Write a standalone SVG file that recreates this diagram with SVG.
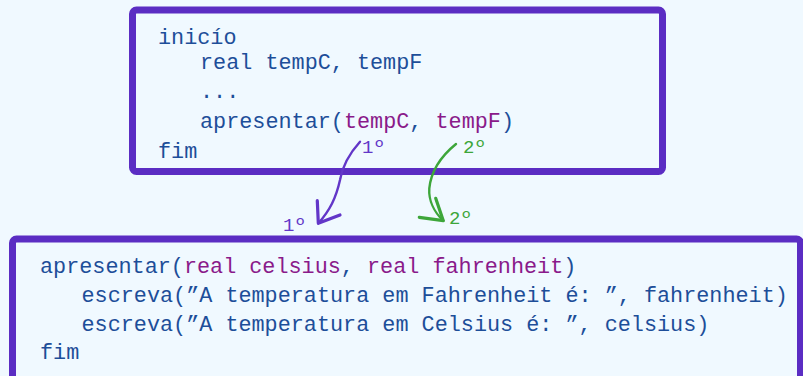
<svg xmlns="http://www.w3.org/2000/svg" width="803" height="376" viewBox="0 0 803 376">
<style>
.code{font-family:"Liberation Mono","Courier New",monospace;font-size:21.8px;fill:#1D4E99}
.arg{fill:#8A1A8A}
.box{fill:#F0F9FF;stroke:#5B2DC3;stroke-width:7}
.lbl{font-family:"Liberation Mono","Courier New",monospace;font-size:19px}
.p{fill:#6236C8}
.g{fill:#3DA63A}
</style>
<rect x="0" y="0" width="803" height="376" fill="#F0F9FF"/>
<g id="main">
<rect class="box" x="132.5" y="10" width="530" height="161.5" rx="4"/>
<text class="code" x="158" y="44.3">inicío</text>
<text class="code" x="200" y="69.3">real tempC, tempF</text>
<text class="code" x="200" y="98.3">...</text>
<text class="code" x="200" y="128.3">apresentar(<tspan class="arg">tempC</tspan>, <tspan class="arg">tempF</tspan>)</text>
<text class="code" x="158" y="158.3">fim</text>
</g>
<g id="proc">
<rect class="box" x="12.5" y="239" width="788" height="145" rx="4"/>
<text class="code" x="40" y="273.3">apresentar(<tspan class="arg">real celsius</tspan>, <tspan class="arg">real fahrenheit</tspan>)</text>
<text class="code" x="81.5" y="301.7">escreva(”A temperatura em Fahrenheit é: ”, fahrenheit)</text>
<text class="code" x="81.5" y="331">escreva(”A temperatura em Celsius é: ”, celsius)</text>
<text class="code" x="40" y="359">fim</text>
</g>
<g id="connectors" fill="none" stroke-linecap="round" stroke-linejoin="round">
<path d="M360 141.7 C348 155 342 168 340 180 C336 198 330 210 318.3 223.3" stroke="#6236C8" stroke-width="2.4"/>
<path d="M317.3 200.7 L318.3 223.3 L340 215" stroke="#6236C8" stroke-width="3.2"/>
<path d="M456 144 C440 157 431 172 429.3 188.3 C428.5 200 434 212 443.3 220.7" stroke="#3DA63A" stroke-width="2.4"/>
<path d="M419.3 217.3 L443.3 220.7 L435.7 198.3" stroke="#3DA63A" stroke-width="3.2"/>
</g>
<g id="labels">
<text class="lbl p" x="362" y="153.3">1º</text>
<text class="lbl g" x="463" y="153.3">2º</text>
<text class="lbl p" x="283" y="231">1º</text>
<text class="lbl g" x="449" y="224">2º</text>
</g>
</svg>
